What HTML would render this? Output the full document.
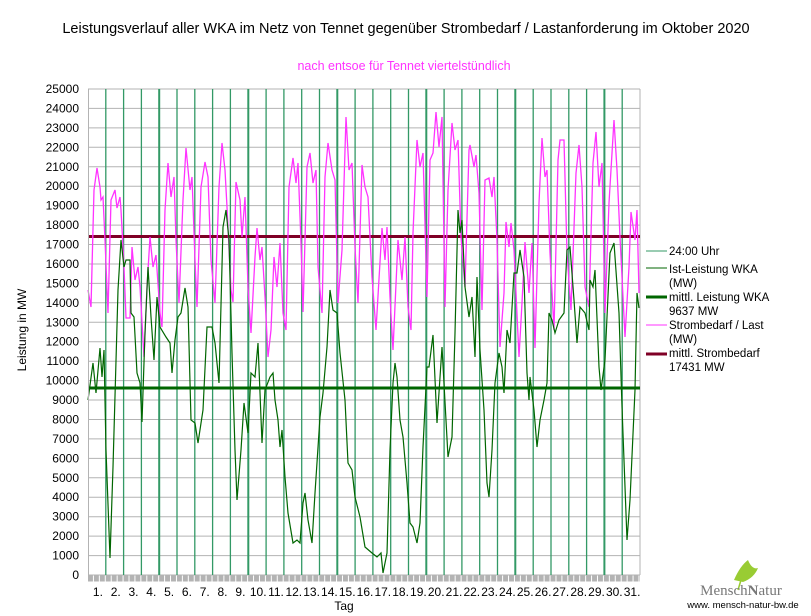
<!DOCTYPE html>
<html><head><meta charset="utf-8"><style>
body{margin:0;background:#fff;}
svg{display:block;font-family:"Liberation Sans",sans-serif;}
</style></head><body>
<svg width="811" height="616" viewBox="0 0 811 616" xmlns="http://www.w3.org/2000/svg">
<rect width="811" height="616" fill="#fff"/>
<text x="406" y="33" font-size="14.5" text-anchor="middle" fill="#000">Leistungsverlauf aller WKA im Netz von Tennet gegenüber  Strombedarf / Lastanforderung im Oktober 2020</text>
<text x="404" y="70" font-size="12.5" text-anchor="middle" fill="#ff33ff">nach entsoe für Tennet viertelstündlich</text>
<g id="grid" stroke="#b3b3b3" stroke-width="1"></g>
<g id="vg" stroke="#339966"></g>
<g id="yl" font-size="12" text-anchor="end" fill="#000"></g>
<g id="xl" font-size="12" text-anchor="middle" fill="#000"></g>
<rect x="88" y="575.5" width="552" height="6" fill="#b3b3b3"/>
<line x1="88" y1="578.5" x2="640" y2="578.5" stroke="#fff" stroke-width="6" stroke-dasharray="1 4.93" stroke-dashoffset="-4.93"/>
<text x="344" y="610" font-size="12" text-anchor="middle">Tag</text>
<text transform="translate(26,330) rotate(-90)" font-size="12" text-anchor="middle">Leistung in MW</text>
<line x1="88" y1="236.5" x2="640" y2="236.5" stroke="#7f0026" stroke-width="3"/>
<line x1="88" y1="388" x2="640" y2="388" stroke="#006600" stroke-width="3"/>
<polyline fill="none" stroke="#ff33ff" stroke-width="1.3" points="88,290 91,307 94,190 97,168 100,187 101,200 103,197 105,240 108,313 111,200 115,190 117,208 120,197 121,210 124,267 126,318 130,318 132,247 135,280 138,267 140,287 144,357 147,287 150,237 153,267 156,255 160,313 162,327 165,210 168,163 171,197 174,177 176,240 179,303 183,200 186,148 190,190 192,177 195,260 197,307 201,187 205,162 208,177 211,260 215,303 219,187 222,143 225,170 227,207 231,290 233,302 236,182 240,200 242,237 245,197 248,287 251,333 255,257 257,228 260,260 262,247 265,297 268,357 271,330 274,257 277,287 280,243 283,313 286,330 289,187 293,158 296,183 298,163 301,243 303,312 307,167 310,153 313,183 316,170 318,267 322,313 325,177 328,143 332,170 335,180 338,303 342,250 346,117 349,170 352,163 355,247 358,303 362,165 365,187 368,197 372,277 376,330 382,228 385,260 387,227 390,297 393,350 398,240 402,280 405,237 408,307 411,330 413,233 417,140 420,167 423,153 427,297 430,160 433,153 436,112 439,147 442,117 445,307 448,190 452,123 455,150 458,140 461,237 465,287 469,150 470,145 474,167 476,155 479,193 482,310 485,180 489,178 492,197 494,177 497,240 500,347 504,293 506,222 509,247 511,223 514,250 519,357 522,303 525,242 529,293 532,243 535,348 539,203 542,138 545,177 547,170 550,253 554,330 558,160 560,140 564,140 567,253 571,310 576,173 579,145 582,187 585,287 589,307 593,163 596,132 599,187 602,163 605,313 609,203 614,120 617,170 620,237 625,337 629,267 631,212 635,240 637,210 639,293"/>
<polyline fill="none" stroke="#006600" stroke-width="1.2" points="88,400 93,363 96,393 100,348 102,377 104,350 106,450 110,558 113,467 118,290 121,240 124,267 126,260 130,260 131,313 134,317 137,373 140,383 142,422 145,333 148,267 151,317 154,360 157,297 160,327 166,337 170,343 172,373 175,340 178,317 181,313 185,288 188,307 191,420 195,423 198,443 203,410 207,327 212,327 215,343 219,383 223,227 226,210 229,240 232,353 235,450 237,500 241,450 244,403 248,433 251,373 255,377 258,343 260,393 262,443 265,390 270,377 273,373 275,400 278,420 280,447 282,430 285,477 288,513 293,543 297,540 300,543 303,503 305,493 308,520 312,543 315,493 320,417 323,393 327,347 330,290 333,310 337,313 340,353 345,400 348,463 352,470 355,497 360,517 365,547 372,553 377,557 381,553 383,573 387,553 390,450 393,383 395,363 397,377 400,420 403,437 407,483 410,523 413,527 417,543 420,523 423,447 427,367 429,367 433,335 437,423 442,347 448,457 452,437 455,333 458,210 460,233 462,220 465,287 469,317 472,297 475,357 477,277 480,350 484,410 487,483 489,497 492,450 495,383 499,353 502,367 504,393 507,330 510,343 514,273 517,273 520,250 524,277 527,373 529,400 530,377 534,410 537,447 540,420 544,400 547,383 549,313 552,320 555,333 559,320 564,313 567,250 570,247 574,300 577,343 580,307 585,313 589,330 590,280 593,287 595,270 599,367 601,390 605,360 610,253 614,243 619,313 622,407 627,540 630,500 635,390 637,293 639,308"/>
<line x1="88.5" y1="89" x2="88.5" y2="575" stroke="#b3b3b3"/>
<g font-size="11.5" fill="#000">
<line x1="646" y1="251" x2="667" y2="251" stroke="#339966" stroke-width="1"/>
<text x="669" y="255">24:00 Uhr</text>
<line x1="646" y1="268" x2="667" y2="268" stroke="#006600" stroke-width="1"/>
<text x="669" y="273">Ist-Leistung WKA</text>
<text x="669" y="287">(MW)</text>
<line x1="646" y1="297" x2="667" y2="297" stroke="#006600" stroke-width="3"/>
<text x="669" y="301">mittl. Leistung WKA</text>
<text x="669" y="315">9637 MW</text>
<line x1="646" y1="325" x2="667" y2="325" stroke="#ff33ff" stroke-width="1"/>
<text x="669" y="329">Strombedarf / Last</text>
<text x="669" y="343">(MW)</text>
<line x1="646" y1="354" x2="667" y2="354" stroke="#7f0026" stroke-width="3"/>
<text x="669" y="357">mittl. Strombedarf</text>
<text x="669" y="371">17431 MW</text>
</g>
<path d="M734 580 Q740 566 748 560 Q752 570 758 568 Q754 578 743 582 Z" fill="#99cc33"/>
<line x1="741" y1="580" x2="738" y2="590" stroke="#99cc33" stroke-width="1.5"/>
<text x="741" y="595" font-family="Liberation Serif,serif" font-size="15" fill="#777" text-anchor="middle">Mensch<tspan font-weight="bold">N</tspan>atur</text>
<text x="743" y="608" font-size="9.5" fill="#000" text-anchor="middle">www. mensch-natur-bw.de</text>
<script>
var ns="http://www.w3.org/2000/svg";
function el(p,t,a,tx){var e=document.createElementNS(ns,t);for(var k in a)e.setAttribute(k,a[k]);if(tx)e.textContent=tx;document.getElementById(p).appendChild(e);}
for(var i=0;i<=25;i++){var y=575-i*19.44;el("grid","line",{x1:88,x2:640,y1:y.toFixed(1),y2:y.toFixed(1)});el("yl","text",{x:79,y:(y+4).toFixed(1)},String(i*1000));}
for(var d=1;d<=31;d++){var x=88+d*17.806;if(d<31)el("vg","line",{x1:x.toFixed(1),x2:x.toFixed(1),y1:89,y2:575,"stroke-width":(d%5==4?2:1.3)});el("xl","text",{x:(x-17.806/2+1).toFixed(1),y:596},d+".");}
el("grid","line",{x1:640,x2:640,y1:89,y2:575});
</script>
</svg>
</body></html>
